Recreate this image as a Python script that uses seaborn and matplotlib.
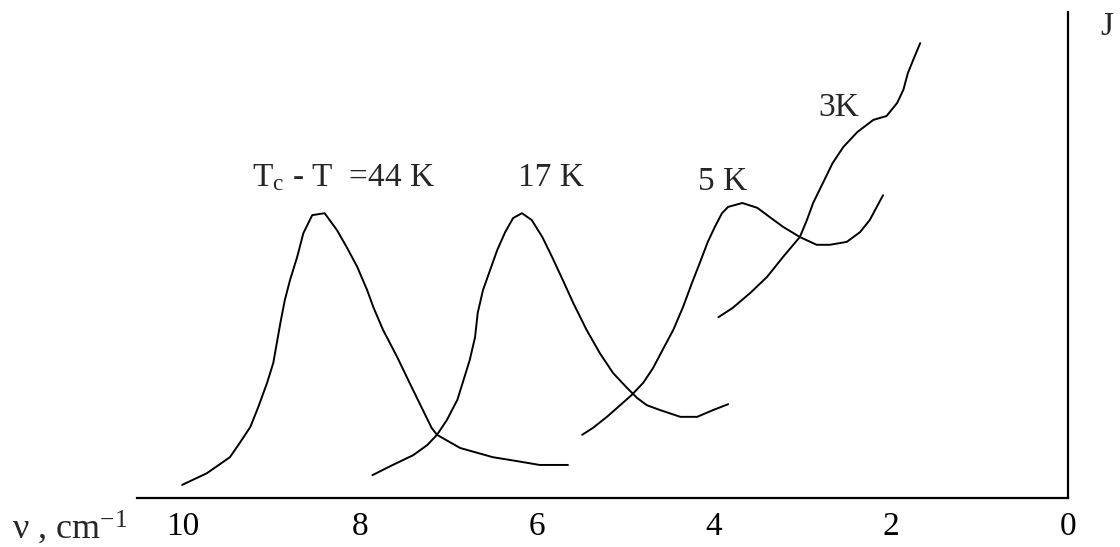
import numpy as np
import pandas as pd
import matplotlib
matplotlib.use("Agg")
import matplotlib.pyplot as plt
import seaborn as sns

# wavenumber nu (cm^-1) and intensity J (arb. units)
nu_44 = [10.01, 9.73, 9.47, 9.36, 9.24, 9.15, 9.05, 8.98, 8.94, 8.90, 8.85, 8.79,
         8.71, 8.64, 8.54, 8.40, 8.26, 8.15, 8.03, 7.92, 7.85, 7.74, 7.58, 7.44,
         7.29, 7.19, 7.13, 6.87, 6.50, 6.23, 5.97, 5.65]
j_44 = [0.27, 0.51, 0.84, 1.13, 1.46, 1.87, 2.37, 2.78, 3.19, 3.60, 4.07, 4.49,
        4.96, 5.45, 5.82, 5.86, 5.51, 5.16, 4.75, 4.28, 3.93, 3.46, 2.90, 2.37,
        1.81, 1.44, 1.30, 1.03, 0.84, 0.76, 0.68, 0.68]

nu_17 = [7.86, 7.63, 7.40, 7.24, 7.13, 7.02, 6.90, 6.84, 6.76, 6.70, 6.67, 6.61,
         6.53, 6.45, 6.36, 6.27, 6.17, 6.06, 5.94, 5.83, 5.71, 5.59, 5.44, 5.29,
         5.14, 4.98, 4.87, 4.76, 4.61, 4.38, 4.19, 4.01, 3.84]
j_17 = [0.47, 0.68, 0.88, 1.09, 1.30, 1.60, 2.02, 2.37, 2.84, 3.31, 3.81, 4.28,
        4.69, 5.10, 5.47, 5.76, 5.86, 5.72, 5.37, 4.96, 4.49, 4.01, 3.46, 2.98,
        2.57, 2.26, 2.06, 1.91, 1.81, 1.67, 1.67, 1.81, 1.93]

nu_5 = [5.49, 5.37, 5.21, 5.06, 4.93, 4.80, 4.69, 4.58, 4.46, 4.35, 4.25, 4.16,
        4.07, 3.99, 3.91, 3.84, 3.68, 3.51, 3.37, 3.22, 3.03, 2.84, 2.69, 2.50,
        2.35, 2.24, 2.09]
j_5 = [1.30, 1.44, 1.67, 1.91, 2.12, 2.37, 2.67, 3.05, 3.46, 3.93, 4.42, 4.84,
       5.27, 5.58, 5.86, 5.99, 6.07, 5.97, 5.78, 5.58, 5.37, 5.21, 5.21, 5.27,
       5.47, 5.72, 6.23]

nu_3 = [3.95, 3.79, 3.59, 3.40, 3.22, 3.03, 2.95, 2.88, 2.77, 2.66, 2.54, 2.38,
        2.20, 2.05, 1.93, 1.86, 1.81, 1.75, 1.67]
j_3 = [3.72, 3.91, 4.22, 4.55, 4.96, 5.37, 5.72, 6.07, 6.48, 6.89, 7.22, 7.53,
       7.78, 7.86, 8.13, 8.40, 8.74, 9.01, 9.36]

x_ticks = [10, 8, 6, 4, 2, 0]
x_ticklabels = ["10", "8", "6", "4", "2", "0"]

curves = {"44K": (nu_44, j_44), "17K": (nu_17, j_17),
          "5K": (nu_5, j_5), "3K": (nu_3, j_3)}
df = pd.concat([pd.DataFrame({"nu": n, "J": j, "dT": k})
                for k, (n, j) in curves.items()], ignore_index=True)

sns.set_style("white")
plt.rcParams["font.family"] = ["Liberation Serif", "DejaVu Serif"]
plt.rcParams["mathtext.fontset"] = "custom"
plt.rcParams["mathtext.rm"] = "Liberation Serif"
plt.rcParams["mathtext.it"] = "Liberation Serif:italic"

fig = plt.figure(figsize=(11.2, 5.47), dpi=100)
ax = fig.add_axes([137 / 1120, 49 / 547, (1068 - 137) / 1120, (498 - 12) / 547])

for key in curves:
    sns.lineplot(data=df[df["dT"] == key], x="nu", y="J", sort=False,
                 color="black", lw=1.4, ax=ax, legend=False,
                 solid_joinstyle="round", solid_capstyle="round")

ax.set_xlim(10.52, 0)
ax.set_ylim(0, 10)
ax.set_xlabel("")
ax.set_ylabel("")
ax.set_xticks(x_ticks)
ax.set_xticklabels(x_ticklabels)
ax.set_yticks([])
ax.tick_params(axis="x", direction="in", length=11, width=1.3, pad=10,
               labelsize=24, colors="black")
for side in ["left", "top"]:
    ax.spines[side].set_visible(False)
for side in ["bottom", "right"]:
    ax.spines[side].set_visible(True)
    ax.spines[side].set_color("black")
    ax.spines[side].set_linewidth(1.6)

fs = 24
ax.text(9.22, 6.42, r"T$_{\rm c}$ - T  =44 K", fontsize=fs, va="baseline")
ax.text(6.21, 6.42, "17 K", fontsize=fs, va="baseline")
ax.text(4.18, 6.34, "5 K", fontsize=fs, va="baseline")
ax.text(2.82, 7.86, "3K", fontsize=fs, va="baseline")
ax.text(-0.36, 9.53, "J", fontsize=fs, va="baseline", clip_on=False)

fig.text(12 / 1120, 8 / 547, r"ν , cm$^{-1}$", fontsize=26, va="baseline")

fig.savefig("out.png", dpi=100, facecolor="white")
